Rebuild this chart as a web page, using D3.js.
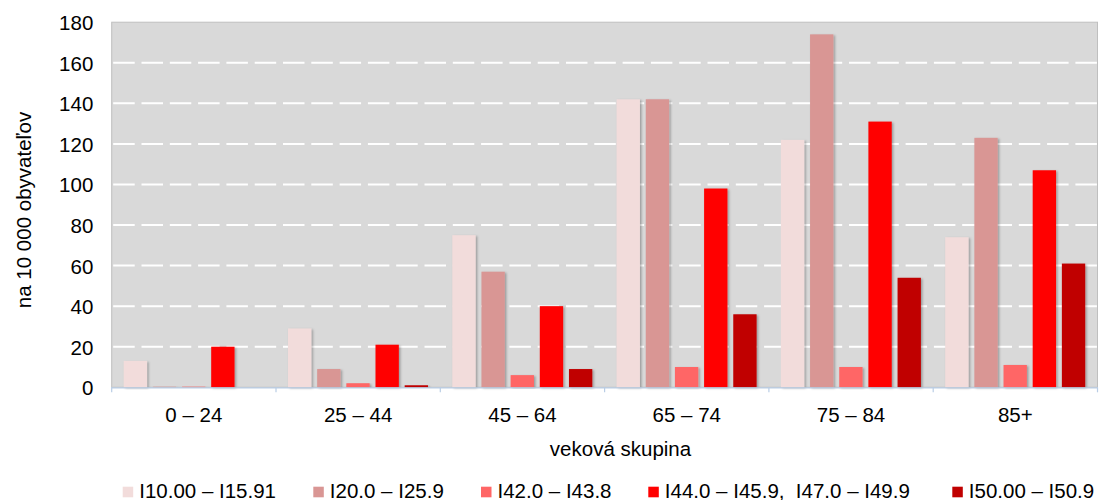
<!DOCTYPE html>
<html>
<head>
<meta charset="utf-8">
<script src="https://cdn.jsdelivr.net/npm/d3@7"></script>
<style>
  body { margin: 0; background: #fff; }
  svg text { font-family: "Liberation Sans", Arial, sans-serif; fill: #000; }
</style>
</head>
<body>
<svg id="chart" width="1099" height="500"></svg>
<script>
var categories = ["0 – 24", "25 – 44", "45 – 64", "65 – 74", "75 – 84", "85+"];
var seriesNames = ["I10.00 – I15.91", "I20.0 – I25.9", "I42.0 – I43.8", "I44.0 – I45.9,  I47.0 – I49.9", "I50.00 – I50.9"];
var s1 = [13, 29, 75, 142, 122, 74];
var s2 = [0.3, 9, 57, 142, 174, 123];
var s3 = [0.3, 2, 6, 10, 10, 11];
var s4 = [20, 21, 40, 98, 131, 107];
var s5 = [0, 1, 9, 36, 54, 61];
var yTicks = [0, 20, 40, 60, 80, 100, 120, 140, 160, 180];
var colors = ["#f2dcdb", "#d99694", "#ff6666", "#ff0000", "#c00000"];

var seriesValues = [s1, s2, s3, s4, s5];

var svg = d3.select("#chart");
var plotLeft = 111.7, plotRight = 1097.5, plotTop = 22.2, plotBottom = 387.3;

var x = d3.scaleBand().domain(categories).range([plotLeft, plotRight]).padding(0);
var xs = d3.scaleBand().domain(seriesNames).range([12, 152]).paddingInner(0.2).paddingOuter(0);
var y = d3.scaleLinear().domain([0, 180]).range([plotBottom, plotTop]);

var defs = svg.append("defs");
var f = defs.append("filter").attr("id", "shadow").attr("x", "-20%").attr("y", "-5%").attr("width", "150%").attr("height", "115%");
f.append("feDropShadow").attr("dx", 1.5).attr("dy", 1).attr("stdDeviation", 0.8)
  .attr("flood-color", "#000").attr("flood-opacity", 0.3);

// plot background
svg.append("rect")
  .attr("x", plotLeft).attr("y", plotTop)
  .attr("width", plotRight - plotLeft).attr("height", plotBottom - plotTop)
  .attr("fill", "#d9d9d9").attr("stroke", "#bfbfbf").attr("stroke-width", 1);

// gridlines
svg.append("g").selectAll("line")
  .data(yTicks.filter(function(d) { return d > 0 && d < 180; }))
  .enter().append("line")
  .attr("x1", plotLeft + 1.5).attr("x2", plotRight)
  .attr("y1", function(d) { return y(d); })
  .attr("y2", function(d) { return y(d); })
  .attr("stroke", "#fff").attr("stroke-width", 2)
  .attr("stroke-dasharray", "21.5,6.8");

// bars
var groups = svg.append("g").selectAll("g")
  .data(categories)
  .enter().append("g")
  .attr("transform", function(d) { return "translate(" + x(d) + ",0)"; });

groups.selectAll("rect")
  .data(function(d, i) {
    return seriesNames.map(function(s, j) { return { s: s, j: j, v: seriesValues[j][i] }; });
  })
  .enter().append("rect")
  .attr("x", function(d) { return xs(d.s); })
  .attr("width", xs.bandwidth())
  .attr("y", function(d) { return y(d.v); })
  .attr("height", function(d) { return plotBottom - y(d.v); })
  .attr("fill", function(d) { return colors[d.j]; })
  .attr("filter", function(d) { return d.v > 0 ? "url(#shadow)" : null; });

// x axis line + ticks
svg.append("line")
  .attr("x1", plotLeft).attr("x2", plotRight)
  .attr("y1", plotBottom + 0.5).attr("y2", plotBottom + 0.5)
  .attr("stroke", "#b9cde5").attr("stroke-width", 1.2);
svg.append("g").selectAll("line")
  .data(categories.concat(["end"]))
  .enter().append("line")
  .attr("x1", function(d, i) { return i < categories.length ? x(d) : plotRight; })
  .attr("x2", function(d, i) { return i < categories.length ? x(d) : plotRight; })
  .attr("y1", plotBottom).attr("y2", plotBottom + 5)
  .attr("stroke", "#b9cde5").attr("stroke-width", 1.2);

// x tick labels
svg.append("g").selectAll("text")
  .data(categories)
  .enter().append("text")
  .attr("x", function(d) { return x(d) + x.bandwidth() / 2; })
  .attr("y", 421.5)
  .attr("text-anchor", "middle")
  .attr("font-size", 20.5)
  .text(function(d) { return d; });

// y tick labels
svg.append("g").selectAll("text")
  .data(yTicks)
  .enter().append("text")
  .attr("x", 93.3)
  .attr("y", function(d) { return y(d) + 8; })
  .attr("text-anchor", "end")
  .attr("font-size", 20.5)
  .text(function(d) { return d; });

// axis titles
svg.append("text")
  .attr("transform", "translate(31,210) rotate(-90)")
  .attr("text-anchor", "middle")
  .attr("font-size", 20.5)
  .text("na 10 000 obyvateľov");

svg.append("text")
  .attr("x", 620.5).attr("y", 455.5)
  .attr("text-anchor", "middle")
  .attr("font-size", 20.5)
  .text("veková skupina");

// legend
var legendX = [122.7, 313.3, 481, 648.3, 952.3];
var legend = svg.append("g").selectAll("g")
  .data(seriesNames)
  .enter().append("g")
  .attr("transform", function(d, i) { return "translate(" + legendX[i] + ",0)"; });
legend.append("rect")
  .attr("x", 0).attr("y", 486.7).attr("width", 10.5).attr("height", 10.6)
  .attr("fill", function(d, i) { return colors[i]; });
legend.append("text")
  .attr("x", 16.5).attr("y", 498.3)
  .attr("font-size", 20.5)
  .attr("xml:space", "preserve")
  .style("white-space", "pre")
  .text(function(d) { return d; });
</script>
</body>
</html>
